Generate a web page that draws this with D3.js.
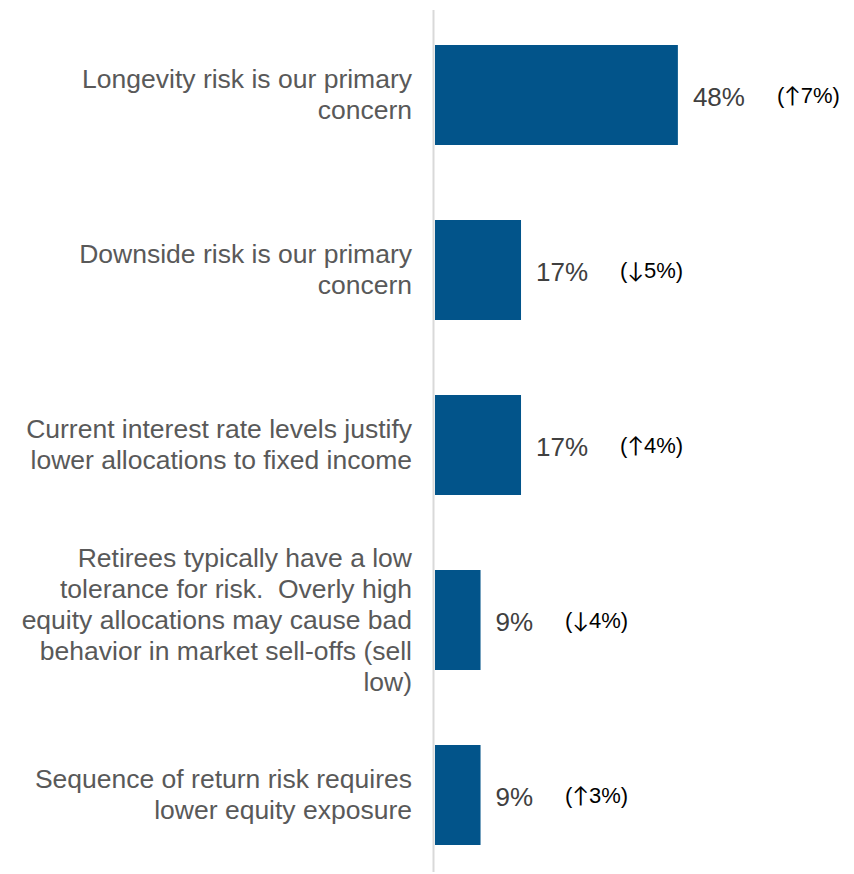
<!DOCTYPE html>
<html>
<head>
<meta charset="utf-8">
<script src="https://cdnjs.cloudflare.com/ajax/libs/d3/7.8.5/d3.min.js"></script>
<style>
  body { margin: 0; background: #fff; }
  svg text { font-family: "Liberation Sans", Arial, sans-serif; white-space: pre; }
</style>
</head>
<body>
<svg width="854" height="874"></svg>
<script>
// labels, one line per array entry (line breaks as in the original)
var categories = [
  ["Longevity risk is our primary", "concern"],
  ["Downside risk is our primary", "concern"],
  ["Current interest rate levels justify", "lower allocations to fixed income"],
  ["Retirees typically have a low", "tolerance for risk.  Overly high", "equity allocations may cause bad", "behavior in market sell-offs (sell", "low)"],
  ["Sequence of return risk requires", "lower equity exposure"]
];
var values = [48, 17, 17, 9, 9];
var changes = [7, -5, 4, -4, 3];

var svg = d3.select("svg");

/* y-as: een band per categorie */
var y = d3.scaleBand()
    .domain(d3.range(categories.length))
    .range([7.5, 882.5])
    .paddingInner(0.4286)
    .paddingOuter(0.2143);

/* x-as: percentage */
var x = d3.scaleLinear()
    .domain([0, 50])
    .range([435, 688]);

var barColor = "#02548a";

/* de bars */
svg.append("g")
  .selectAll("rect")
  .data(values)
  .enter().append("rect")
    .attr("x", x(0))
    .attr("y", function(d, i) { return y(i); })
    .attr("width", function(d) { return x(d) - x(0); })
    .attr("height", y.bandwidth())
    .attr("fill", barColor);

/* verticale as-lijn */
svg.append("line")
    .attr("x1", 433.5).attr("x2", 433.5)
    .attr("y1", 10).attr("y2", 872)
    .attr("stroke", "#d9d9d9")
    .attr("stroke-width", 2);

/* categorie labels links */
var lineH = 31;
svg.append("g")
    .attr("text-anchor", "end")
    .attr("font-size", 26.5)
    .attr("fill", "#595959")
  .selectAll("text")
  .data(categories)
  .enter().append("text")
    .attr("transform", function(d, i) {
      var cy = y(i) + y.bandwidth() / 2 - (d.length - 1) * lineH / 2;
      return "translate(412," + cy + ")";
    })
  .selectAll("tspan")
  .data(function(d) { return d; })
  .enter().append("tspan")
    .attr("x", 0)
    .attr("y", function(d, j) { return j * lineH; })
    .attr("dy", "0.33em")
    .text(function(d) { return d; });

/* waarde labels */
var valLabels = svg.append("g")
    .attr("font-size", 26)
    .attr("fill", "#404040")
  .selectAll("text")
  .data(values)
  .enter().append("text")
    .attr("x", function(d) { return x(d) + 15; })
    .attr("y", function(d, i) { return y(i) + y.bandwidth() / 2; })
    .attr("dy", "0.44em")
    .text(function(d) { return d + "%"; });

/* verandering t.o.v. vorig jaar */
var ends = valLabels.nodes().map(function(n) { return +n.getAttribute("x") + n.getComputedTextLength(); });
var chg = svg.append("g")
    .attr("font-size", 22)
    .attr("fill", "#000")
  .selectAll("text")
  .data(changes)
  .enter().append("text")
    .attr("x", function(d, i) { return ends[i] + 32; })
    .attr("y", function(d, i) { return y(i) + y.bandwidth() / 2; })
    .attr("dy", "0.38em");

chg.append("tspan").text("(");
chg.append("tspan")
    .attr("font-family", "Lato")
    .text(function(d) { return d > 0 ? "\u2191" : "\u2193"; });
chg.append("tspan").text(function(d) { return Math.abs(d) + "%)"; });
</script>
</body>
</html>
